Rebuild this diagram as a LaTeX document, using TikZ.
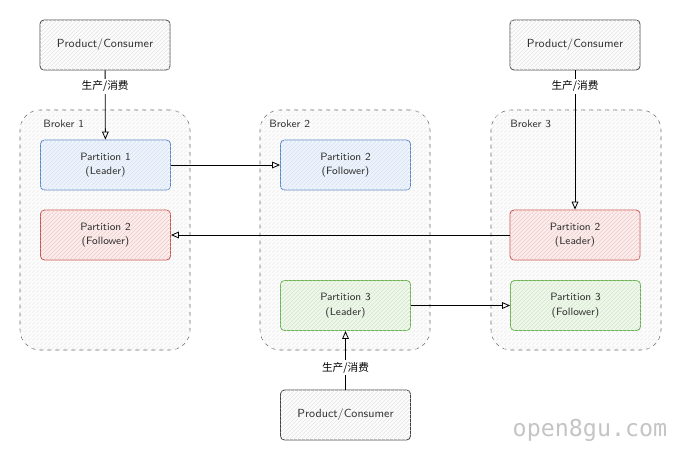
\documentclass[tikz,border=0pt]{standalone}
\usepackage{fontspec}
\newfontfamily\cjk{Noto Sans CJK SC}
\newfontfamily\markfont{DejaVu Sans Mono}
\usetikzlibrary{arrows.meta,positioning,patterns}
\definecolor{bluestroke}{HTML}{5B86C8}
\definecolor{bluefill}{HTML}{EEF4FC}
\definecolor{redstroke}{HTML}{C6504C}
\definecolor{redfill}{HTML}{FCEDED}
\definecolor{greenstroke}{HTML}{6CB254}
\definecolor{greenfill}{HTML}{EFF8EB}
\definecolor{brokerstroke}{HTML}{666666}
\definecolor{markgray}{HTML}{C4C4C4}

\begin{document}
\begin{tikzpicture}[x=0.75pt,y=0.75pt,yscale=-1,xscale=1]
  \useasboundingbox (0,0) rectangle (682,461);
  \tikzstyle{arrow} = [semithick,-{Triangle[open,length=6pt,width=5pt]}]
  \tikzstyle{box} = [draw, rounded corners=3pt, semithick, minimum width=97.5pt, minimum height=37.5pt, align=center, text=black!80, font=\sffamily\fontsize{8}{11}\selectfont]
  \tikzstyle{client} = [box, draw=black!75, fill=black!1, font=\sffamily\fontsize{8.8}{11}\selectfont, postaction={pattern=north east lines, pattern color=black!10}]
  \tikzstyle{broker} = [draw=brokerstroke, dashed, rounded corners=15pt, minimum width=127.5pt, minimum height=180pt, fill=black!1, postaction={pattern=north east lines, pattern color=black!8}]
  \tikzstyle{blue part} = [box, draw=bluestroke, fill=bluefill, postaction={pattern=north east lines, pattern color=bluestroke!25}]
  \tikzstyle{red part} = [box, draw=redstroke, fill=redfill, postaction={pattern=north east lines, pattern color=redstroke!30}]
  \tikzstyle{green part} = [box, draw=greenstroke, fill=greenfill, postaction={pattern=north east lines, pattern color=greenstroke!30}]
  \tikzstyle{usage} = [fill=white, inner sep=1.5pt, font=\cjk\fontsize{8}{10}\selectfont]
  \tikzstyle{brokername} = [anchor=west, inner sep=0.75pt, text=black!80, font=\sffamily\fontsize{8}{10}\selectfont]

  %Draw the brokers
  \node[broker] (broker1) at (105,230) {};
  \node[broker] (broker2) at (345,230) {};
  \node[broker] (broker3) at (576,230) {};
  \node[brokername] (name1) at (42,124) {Broker 1};
  \node[brokername] (name2) at (268,124) {Broker 2};
  \node[brokername] (name3) at (509,124) {Broker 3};

  %Draw the clients
  \node[client] (client1) at (105,45) {Product/Consumer};
  \node[client] (client2) at (575,45) {Product/Consumer};
  \node[client] (client3) at (345.5,415) {Product/Consumer};

  %Draw the partitions
  \node[blue part] (p1lead) at (105.5,165) {Partition 1\\(Leader)};
  \node[red part] (p2follow) at (105.5,235) {Partition 2\\(Follower)};
  \node[blue part] (p1follow) at (345.5,165) {Partition 2\\(Follower)};
  \node[red part] (p2lead) at (575,235) {Partition 2\\(Leader)};
  \node[green part] (p3lead) at (345.5,305.5) {Partition 3\\(Leader)};
  \node[green part] (p3follow) at (575.5,305.5) {Partition 3\\(Follower)};

  %Produce and consume
  \draw[arrow] (client1) -- node[usage, pos=0.23] {生产/消费} (p1lead);
  \draw[arrow] (client2) -- node[usage, pos=0.115] {生产/消费} (p2lead);
  \draw[arrow] (client3) -- node[usage, pos=0.37] {生产/消费} (p3lead);

  %Replication
  \draw[arrow] (p1lead) -- (p1follow);
  \draw[arrow] (p2lead) -- (p2follow);
  \draw[arrow] (p3lead) -- (p3follow);

  %Watermark
  \node[text=markgray, font=\markfont\fontsize{17.5}{20}\selectfont] (mark) at (590,430) {open8gu.com};
\end{tikzpicture}
\end{document}
